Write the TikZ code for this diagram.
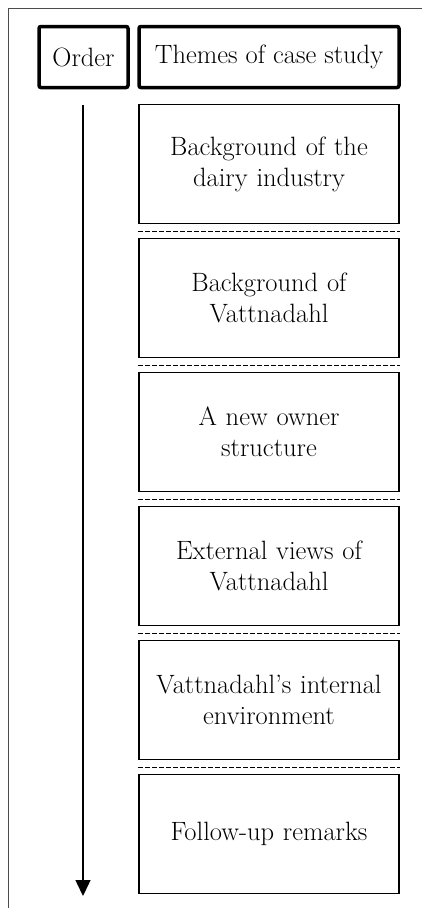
\documentclass[tikz,border=0pt]{standalone}
\usepackage{tikz}
\usetikzlibrary{arrows.meta}

\tikzset{
	headbox/.style={draw, line width=3.5pt, rounded corners=2pt, minimum height=61pt, align=center},
	themebox/.style={draw, line width=1.4pt, minimum width=260pt, minimum height=119pt, text width=250pt, align=center},
	sepline/.style={line width=1.3pt, dash pattern=on 5pt off 2pt}
}

\begin{document}
\begin{tikzpicture}[x=1pt, y=-1pt, font=\fontsize{26.5}{31}\selectfont]
	\useasboundingbox (0, 0) rectangle (422, 908);
	%frame
	\draw[line width=1pt, black!70] (8, 930) -- (8, 8) -- (440, 8);
	%headings
	\node[headbox, minimum width=89pt] (order) at (83.5, 57) {Order};
	\node[headbox, minimum width=260pt] (themes) at (269, 57) {Themes of case study};
	%themes
	\foreach \i/\txt in {1/Background of the\\dairy industry, 2/Background of\\Vattnadahl, 3/A new owner\\structure, 4/External views of\\Vattnadahl, 5/Vattnadahl's internal\\environment, 6/Follow-up remarks}
		\node[themebox] (t\i) at (269, 30 + 134*\i) {\txt};
	\foreach \i in {1, ..., 5}
		\draw[sepline] ([yshift=-7.5pt]t\i.south west) -- ([yshift=-7.5pt]t\i.south east);
	%order arrow
	\coordinate (start) at (83, 105);
	\coordinate (stop) at (83, 896);
	\draw[line width=1.5pt, -{Triangle[width=15pt, length=16pt]}] (start) -- (stop);
\end{tikzpicture}
\end{document}
